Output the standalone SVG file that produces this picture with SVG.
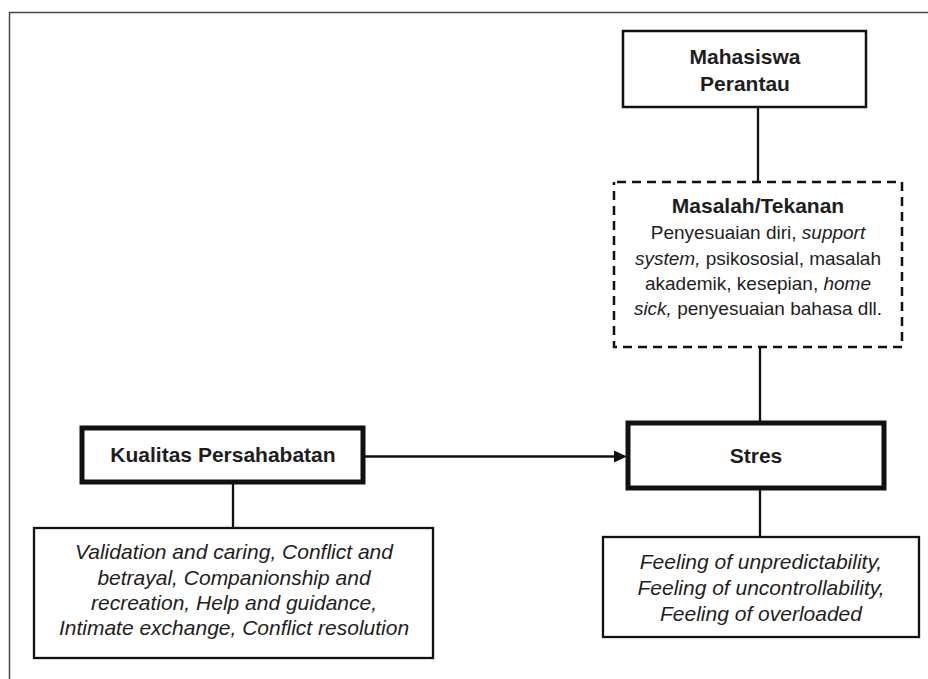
<svg xmlns="http://www.w3.org/2000/svg" width="928" height="679" viewBox="0 0 928 679">
<style>
  .t { font-family: "Liberation Sans", Arial, sans-serif; fill: #1e1e1e; text-anchor: middle; }
  .b { font-weight: bold; font-size: 21px; }
  .i { font-style: italic; font-size: 21px; }
  .r { font-size: 19px; }
  .it { font-style: italic; }
  .box { fill: #fff; stroke: #111; }
  .thick { stroke-width: 5; }
  .med { stroke-width: 2.5; }
  .dash { stroke-width: 2.5; stroke-dasharray: 9 6; stroke-dashoffset: -3; }
  .conn line { stroke: #111; stroke-width: 2.3; }
</style>
<rect width="928" height="679" fill="#fff"/>
<g id="frame" fill="none" stroke="#444" stroke-width="1.5">
  <polyline points="9.5,679 9.5,12.5 928,12.5"/>
</g>
<g class="conn" id="connectors">
  <line x1="758" y1="107" x2="758" y2="182"/>
  <line x1="760" y1="347" x2="760" y2="423"/>
  <line x1="760" y1="488" x2="760" y2="537"/>
  <line x1="233" y1="482" x2="233" y2="528"/>
  <line x1="363" y1="456.5" x2="617" y2="456.5"/>
  <polygon points="627,456.5 614,450.5 614,462.5" fill="#111"/>
</g>
<g id="mahasiswa">
  <rect class="box med" x="623" y="31" width="243" height="76"/>
  <text class="t b" x="745" y="64">Mahasiswa</text>
  <text class="t b" x="745" y="91">Perantau</text>
</g>
<g id="masalah">
  <rect class="box dash" x="614" y="182" width="288" height="165"/>
  <text class="t b" x="758" y="213">Masalah/Tekanan</text>
  <text class="t r" x="758" y="239">Penyesuaian diri, <tspan class="it">support</tspan></text>
  <text class="t r" x="758" y="265"><tspan class="it">system,</tspan> psikososial, masalah</text>
  <text class="t r" x="758" y="290">akademik, kesepian, <tspan class="it">home</tspan></text>
  <text class="t r" x="758" y="315"><tspan class="it">sick,</tspan> penyesuaian bahasa dll.</text>
</g>
<g id="kualitas">
  <rect class="box thick" x="82" y="428" width="281" height="54"/>
  <text class="t b" x="223" y="462">Kualitas Persahabatan</text>
</g>
<g id="stres">
  <rect class="box thick" x="628" y="423" width="256" height="65"/>
  <text class="t b" x="756" y="463">Stres</text>
</g>
<g id="aspek-persahabatan">
  <rect class="box" stroke-width="2.3" x="34" y="528" width="399" height="130"/>
  <text class="t i" x="234" y="559">Validation and caring, Conflict and</text>
  <text class="t i" x="234" y="585">betrayal, Companionship and</text>
  <text class="t i" x="234" y="610">recreation, Help and guidance,</text>
  <text class="t i" x="234" y="635">Intimate exchange, Conflict resolution</text>
</g>
<g id="aspek-stres">
  <rect class="box" stroke-width="2.3" x="603" y="537" width="316" height="100"/>
  <text class="t i" x="761" y="569">Feeling of unpredictability,</text>
  <text class="t i" x="761" y="595">Feeling of uncontrollability,</text>
  <text class="t i" x="761" y="621">Feeling of overloaded</text>
</g>
</svg>
